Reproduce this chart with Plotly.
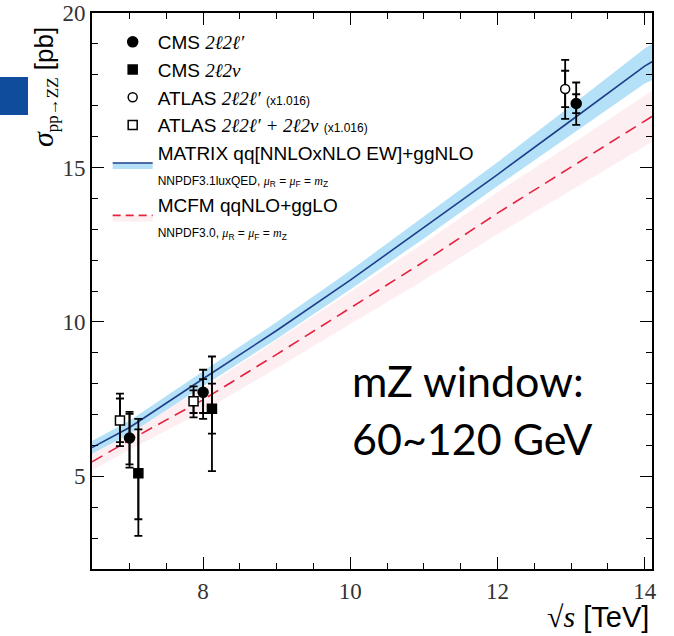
import plotly.graph_objects as go

# ---------------- data ----------------
sqrt_s = [6.49, 7.0, 8.0, 9.0, 10.0, 11.0, 12.0, 13.0, 14.0, 14.1]
matrix_c = [5.93, 6.58, 8.16, 9.72, 11.35, 13.05, 14.77, 16.52, 18.28, 18.42]
matrix_lo = [5.73, 6.37, 7.92, 9.45, 11.05, 12.70, 14.40, 16.05, 17.72, 17.82]
matrix_hi = [6.14, 6.80, 8.40, 10.00, 11.66, 13.42, 15.17, 17.00, 18.85, 19.00]

mcfm_c = [5.47, 6.17, 7.48, 8.95, 10.45, 11.95, 13.52, 15.00, 16.50, 16.65]
mcfm_lo = [5.20, 5.86, 7.11, 8.50, 9.93, 11.35, 12.84, 14.25, 15.68, 15.82]
mcfm_hi = [5.74, 6.48, 7.85, 9.40, 10.97, 12.55, 14.20, 15.75, 17.33, 17.48]

cms4l_x = [7.0, 8.0, 13.07]
cms4l_y = [6.24, 7.72, 17.07]
cms4l_tot_up = [0.85, 0.73, 0.68]
cms4l_tot_dn = [0.96, 0.86, 0.69]
cms4l_st_up = [0.78, 0.43, 0.30]
cms4l_st_dn = [0.85, 0.67, 0.31]

cms2l2v_x = [7.12, 8.12]
cms2l2v_y = [5.10, 7.19]
cms2l2v_tot_up = [1.76, 1.69]
cms2l2v_tot_dn = [2.03, 2.02]
cms2l2v_st_up = [1.42, 0.81]
cms2l2v_st_dn = [1.49, 0.81]

atl4l_x = [12.92]
atl4l_y = [17.54]
atl4l_tot_up = [0.94]
atl4l_tot_dn = [0.97]
atl4l_st_up = [0.59]
atl4l_st_dn = [0.59]

atlcomb_x = [6.87, 7.87]
atlcomb_y = [6.81, 7.43]
atlcomb_tot_up = [0.87, 0.48]
atlcomb_tot_dn = [0.83, 0.52]
atlcomb_st_up = [0.71, 0.35]
atlcomb_st_dn = [0.70, 0.38]

x_ticks = [8, 10, 12, 14]
y_ticks = [5, 10, 15, 20]

# ---------------- styles ----------------
NAVY = "#1d3f8a"
LBLUE = "#b4e1f8"
RED = "#e3233f"
PINK = "rgba(253,234,238,0.8)"
SERIF = "Liberation Serif"
SANS = "Liberation Sans"

def math(s, size=None):
    st = f"font-family:{SERIF};font-style:italic"
    if size:
        st += f";font-size:{size}px"
    return f'<span style="{st}">{s}</span>'

fig = go.Figure()

# bands
fig.add_trace(go.Scatter(x=sqrt_s, y=mcfm_lo, mode="lines", line=dict(width=0),
                         showlegend=False, hoverinfo="skip"))
fig.add_trace(go.Scatter(x=sqrt_s, y=mcfm_hi, mode="lines", line=dict(width=0),
                         fill="tonexty", fillcolor=PINK, showlegend=False, hoverinfo="skip"))
fig.add_trace(go.Scatter(x=sqrt_s, y=matrix_lo, mode="lines", line=dict(width=0),
                         showlegend=False, hoverinfo="skip"))
fig.add_trace(go.Scatter(x=sqrt_s, y=matrix_hi, mode="lines", line=dict(width=0),
                         fill="tonexty", fillcolor=LBLUE, showlegend=False, hoverinfo="skip"))
# central lines
fig.add_trace(go.Scatter(x=sqrt_s, y=mcfm_c, mode="lines",
                         line=dict(color=RED, width=1.6, dash="12px,7px"), showlegend=False))
fig.add_trace(go.Scatter(x=sqrt_s, y=matrix_c, mode="lines",
                         line=dict(color=NAVY, width=1.6), showlegend=False))

# legend-only entries for the theory curves
fig.add_trace(go.Scatter(x=[None], y=[None], mode="lines", fill="toself", fillcolor=LBLUE,
                         line=dict(color=NAVY, width=1.6), legendrank=5,
                         name="MATRIX qq[NNLOxNLO EW]+ggNLO<br><span style=\"font-size:12px\">NNPDF3.1luxQED, "
                              + math("μ", 12) + "<sub>R</sub> = " + math("μ", 12) + "<sub>F</sub> = "
                              + math("m", 12) + "<sub>Z</sub></span>"))
fig.add_trace(go.Scatter(x=[None], y=[None], mode="lines", fill="toself", fillcolor=PINK,
                         line=dict(color=RED, width=1.6, dash="8px,5px"), legendrank=6,
                         name="MCFM qqNLO+ggLO<br><span style=\"font-size:12px\">NNPDF3.0, "
                              + math("μ", 12) + "<sub>R</sub> = " + math("μ", 12) + "<sub>F</sub> = "
                              + math("m", 12) + "<sub>Z</sub></span>"))

def add_points(x, y, tu, td, su, sd, symbol, size, fill, name, rank):
    # statistical (inner) caps
    fig.add_trace(go.Scatter(x=x, y=y, mode="markers", marker=dict(size=1, opacity=0),
                             error_y=dict(type="data", symmetric=False, array=su, arrayminus=sd,
                                          color="black", thickness=1.8, width=4),
                             showlegend=False, hoverinfo="skip"))
    fig.add_trace(go.Scatter(x=x, y=y, mode="markers", name=name, legendrank=rank,
                             marker=dict(symbol=symbol, size=size, color=fill,
                                         line=dict(color="black", width=1.5)),
                             error_y=dict(type="data", symmetric=False, array=tu, arrayminus=td,
                                          color="black", thickness=1.8, width=4)))

add_points(cms4l_x, cms4l_y, cms4l_tot_up, cms4l_tot_dn, cms4l_st_up, cms4l_st_dn,
           "circle", 10, "black", "CMS " + math("2ℓ2ℓ′"), 1)
add_points(cms2l2v_x, cms2l2v_y, cms2l2v_tot_up, cms2l2v_tot_dn, cms2l2v_st_up, cms2l2v_st_dn,
           "square", 9, "black", "CMS " + math("2ℓ2ν"), 2)
add_points(atl4l_x, atl4l_y, atl4l_tot_up, atl4l_tot_dn, atl4l_st_up, atl4l_st_dn,
           "circle", 9, "white", "ATLAS " + math("2ℓ2ℓ′") + ' <span style="font-size:12px">(x1.016)</span>', 3)
add_points(atlcomb_x, atlcomb_y, atlcomb_tot_up, atlcomb_tot_dn, atlcomb_st_up, atlcomb_st_dn,
           "square", 9, "white", "ATLAS " + math("2ℓ2ℓ′ + 2ℓ2ν") + ' <span style="font-size:12px">(x1.016)</span>', 4)

axis_common = dict(showline=True, linecolor="black", linewidth=2, mirror="ticks",
                   ticks="inside", ticklen=12, tickwidth=1, tickcolor="black",
                   showgrid=False, zeroline=False, automargin=False,
                   tickfont=dict(family=SERIF, size=23, color="#333"))

fig.update_xaxes(range=[6.49, 14.1], tickvals=x_ticks,
                 minor=dict(dtick=0.5, tick0=0, ticks="inside", ticklen=6, tickcolor="black", showgrid=False),
                 **axis_common)
fig.update_yaxes(range=[2, 20], tickvals=y_ticks,
                 minor=dict(dtick=1, tick0=0, ticks="inside", ticklen=6, tickcolor="black", showgrid=False),
                 **axis_common)

fig.update_layout(
    width=674, height=636,
    margin=dict(l=92, r=22, t=13, b=67, pad=0, autoexpand=False),
    plot_bgcolor="white", paper_bgcolor="white",
    legend=dict(x=0.028, y=0.982, xanchor="left", yanchor="top",
                font=dict(family=SANS, size=19, color="black"),
                bgcolor="rgba(0,0,0,0)", itemwidth=40, traceorder="normal"),
    shapes=[dict(type="rect", xref="paper", yref="paper",
                 x0=-92/560, x1=(28-92)/560, y0=(569-115)/556, y1=(569-77)/556,
                 fillcolor="#0f4c9c", line=dict(width=0), layer="above")],
    annotations=[
        dict(xref="paper", yref="paper", x=(44-92)/560, y=(569-87)/556, textangle=-90,
             xanchor="center", yanchor="middle", showarrow=False,
             text=f'<span style="font-family:{SERIF};font-style:italic;font-size:30px">σ</span>'
                  f'<sub><span style="font-family:{SERIF};font-size:17px">pp→ZZ</span></sub> [pb]',
             font=dict(family=SANS, size=26, color="black")),
        dict(xref="paper", yref="paper", x=(651-92)/560, y=(569-616)/556,
             xanchor="right", yanchor="middle", showarrow=False,
             text=f'<span style="font-family:{SERIF};font-size:30px">√<i>s</i></span> [TeV]',
             font=dict(family=SANS, size=29, color="black")),
        dict(xref="paper", yref="paper", x=(350-92)/560, y=(569-380)/556,
             xanchor="left", yanchor="middle", showarrow=False,
             text="mZ window:", font=dict(family="Lato", size=43, color="black")),
        dict(xref="paper", yref="paper", x=(350-92)/560, y=(569-438)/556,
             xanchor="left", yanchor="middle", showarrow=False,
             text="60~120 GeV", font=dict(family="Lato", size=43, color="black")),
    ],
)

fig.write_html("out.html")
